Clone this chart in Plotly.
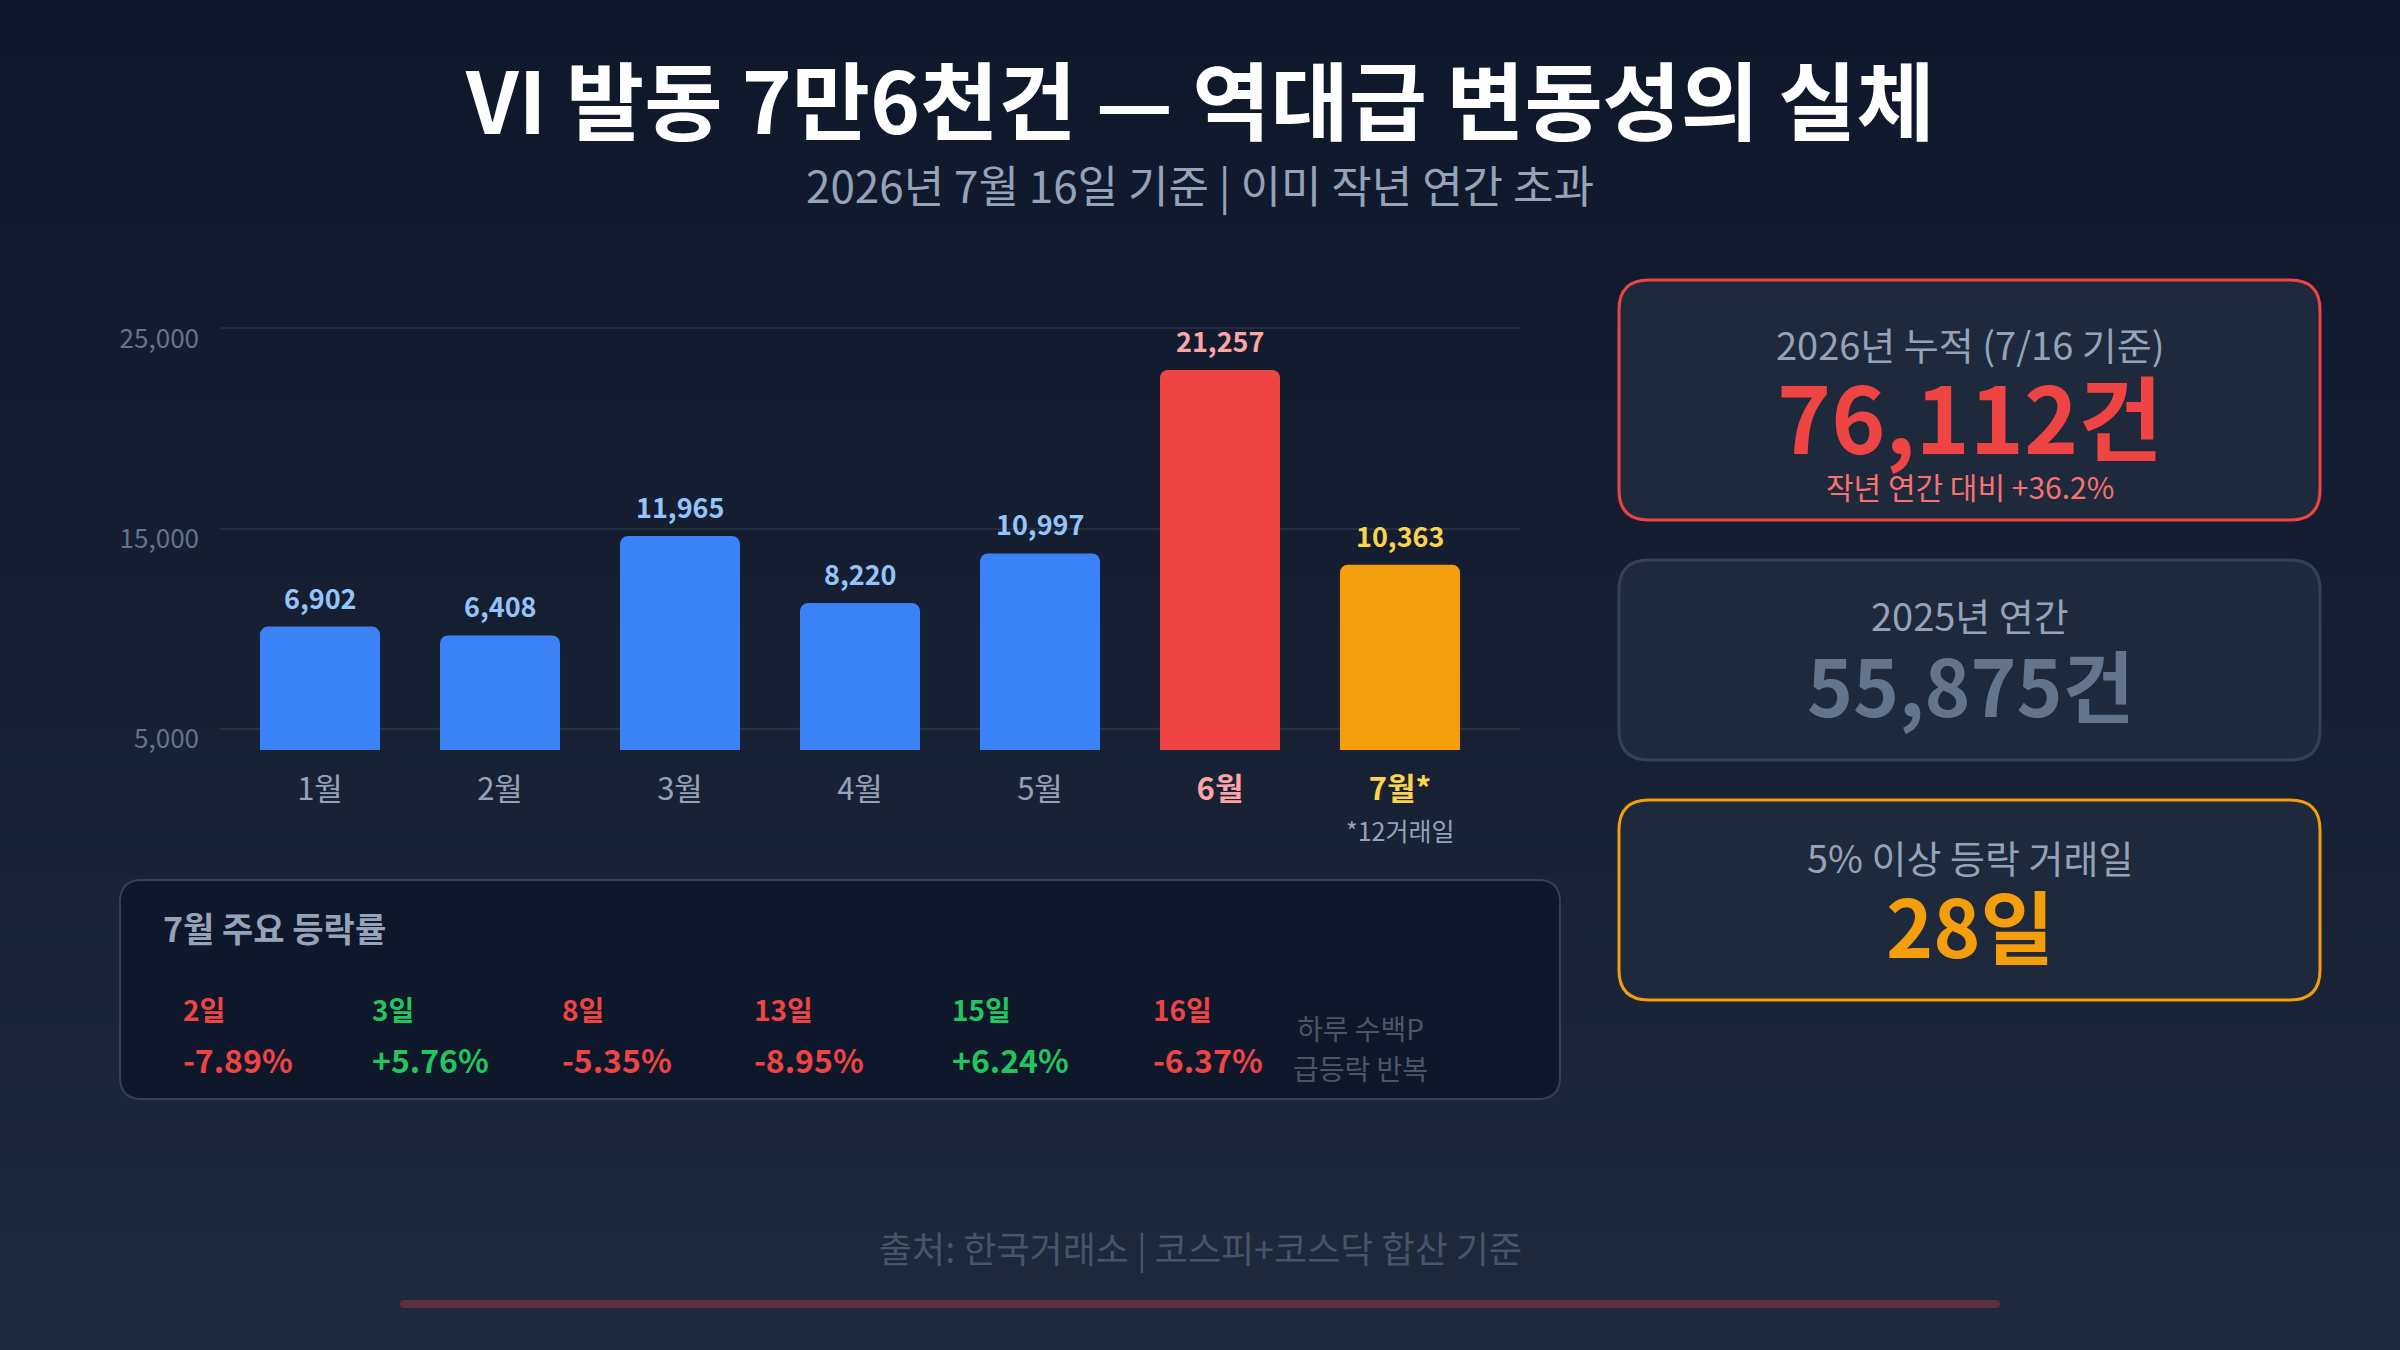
import plotly.graph_objects as go

# ---------------- data ----------------
MONTHS = ['1월', '2월', '3월', '4월', '5월', '6월', '7월']
VI_COUNTS = [6902, 6408, 11965, 8220, 10997, 21257, 10363]
Y_TICKS = [5000, 15000, 25000]
JULY_NOTE = '*12거래일'

DAYS = ['2일', '3일', '8일', '13일', '15일', '16일']
DAY_CHANGES = [-7.89, 5.76, -5.35, -8.95, 6.24, -6.37]

CUM_2026 = 76112
ANNUAL_2025 = 55875
YOY_PCT = 36.2
BIG_MOVE_DAYS = 28

TITLE = 'VI 발동 7만6천건 — 역대급 변동성의 실체'
SUBTITLE = '2026년 7월 16일 기준 | 이미 작년 연간 초과'
SOURCE = '출처: 한국거래소 | 코스피+코스닥 합산 기준'

# ---------------- style ----------------
W, H = 2400, 1350
FONT = 'Noto Sans CJK KR'
BAR_COLORS = ['#3b82f6'] * 5 + ['#ef4444', '#f59e0b']
LABEL_COLORS = ['#93c5fd'] * 5 + ['#fca5a5', '#fcd34d']
UP, DOWN = '#22c55e', '#ef4444'
ITEM_X = [181, 370, 560, 752, 950, 1151]   # layout positions of the daily items (px)


def px_x(x):
    return x / W


def px_y(y):
    return 1 - y / H


def rr_path(x0, y0, x1, y1, r):
    def P(x, y):
        return f"{px_x(x):.5f},{px_y(y):.5f}"
    return (f"M {P(x0 + r, y0)} L {P(x1 - r, y0)} Q {P(x1, y0)} {P(x1, y0 + r)} "
            f"L {P(x1, y1 - r)} Q {P(x1, y1)} {P(x1 - r, y1)} "
            f"L {P(x0 + r, y1)} Q {P(x0, y1)} {P(x0, y1 - r)} "
            f"L {P(x0, y0 + r)} Q {P(x0, y0)} {P(x0 + r, y0)} Z")


fig = go.Figure()

# empty trace so that the gridded reference axis (x/y) is drawn
fig.add_trace(go.Scatter(x=[], y=[], xaxis='x', yaxis='y', hoverinfo='skip',
                         showlegend=False))
# bars
fig.add_trace(go.Bar(
    x=MONTHS, y=VI_COUNTS, xaxis='x', yaxis='y2',
    marker=dict(color=BAR_COLORS, line=dict(width=0)),
    width=0.667, hoverinfo='skip', showlegend=False,
))

shapes = []
# vertical gradient background
top_c, bot_c = (15, 23, 42), (30, 41, 59)
N = 54
for i in range(N):
    t = (i + 0.5) / N
    c = tuple(round(top_c[k] + (bot_c[k] - top_c[k]) * t) for k in range(3))
    shapes.append(dict(type='rect', xref='paper', yref='paper', layer='below',
                       x0=0, x1=1, y0=px_y((i + 1) * H / N + 1), y1=px_y(i * H / N),
                       fillcolor=f'rgb{c}', line=dict(width=0)))

# cards
cards = [
    (1619, 280, 2320, 520, '#ef4444'),
    (1619, 560, 2320, 760, '#334155'),
    (1619, 800, 2320, 1000, '#f59e0b'),
]
for x0, y0, x1, y1, col in cards:
    shapes.append(dict(type='path', xref='paper', yref='paper', layer='below',
                       path=rr_path(x0, y0, x1, y1, 30), fillcolor='#1e293b',
                       line=dict(color=col, width=3)))
# bottom-left panel
shapes.append(dict(type='path', xref='paper', yref='paper', layer='below',
                   path=rr_path(120, 880, 1560, 1099, 22), fillcolor='#0f172a',
                   line=dict(color='#334155', width=2)))
# bottom accent line
shapes.append(dict(type='path', xref='paper', yref='paper', layer='below',
                   path=rr_path(400, 1300, 2000, 1308, 4),
                   fillcolor='rgba(239,68,68,0.3)', line=dict(width=0)))

ann = []


def text(x, y, s, size, color, bold=False, xanchor='center', yanchor='middle'):
    ann.append(dict(xref='paper', yref='paper', x=px_x(x), y=px_y(y), text=s,
                    showarrow=False, xanchor=xanchor, yanchor=yanchor,
                    font=dict(family=FONT, size=size, color=color,
                              weight=700 if bold else 400)))


text(1200, 96, TITLE, 85, '#ffffff', bold=True)
text(1200, 184, SUBTITLE, 44, '#94a3b8')

# value labels above bars
for m, v, c in zip(MONTHS, VI_COUNTS, LABEL_COLORS):
    ann.append(dict(xref='x', yref='y2', x=m, y=v, text=f'{v:,}', showarrow=False,
                    yanchor='bottom', yshift=8,
                    font=dict(family=FONT, size=27, color=c, weight=700)))
ann.append(dict(xref='x', yref='paper', x=MONTHS[-1], y=px_y(830), text=JULY_NOTE,
                showarrow=False, yanchor='middle',
                font=dict(family=FONT, size=25, color='#94a3b8')))

# cards text
text(1970, 343, '2026년 누적 (7/16 기준)', 38, '#94a3b8')
text(1970, 414, f'{CUM_2026:,}건', 92, '#ef4444', bold=True)
text(1970, 486, f'작년 연간 대비 +{YOY_PCT}%', 30, '#f87171')
text(1970, 615, '2025년 연간', 38, '#94a3b8')
text(1970, 683, f'{ANNUAL_2025:,}건', 78, '#64748b', bold=True)
text(1970, 856, '5% 이상 등락 거래일', 38, '#94a3b8')
text(1970, 923, f'{BIG_MOVE_DAYS}일', 80, '#f59e0b', bold=True)

# bottom-left panel text
text(161, 928, '7월 주요 등락률', 34, '#94a3b8', bold=True, xanchor='left')
for x, d, ch in zip(ITEM_X, DAYS, DAY_CHANGES):
    col = UP if ch > 0 else DOWN
    text(x, 1009, d, 28, col, bold=True, xanchor='left')
    text(x, 1059, f'{ch:+.2f}%', 32, col, bold=True, xanchor='left')
text(1360, 1028, '하루 수백P', 28, '#4b5563')
text(1360, 1068, '급등락 반복', 28, '#4b5563')

# source
text(1200, 1247, SOURCE, 36, '#475569')

# x tick labels
ticktext = []
for i, m in enumerate(MONTHS):
    if i == 5:
        ticktext.append(f"<b><span style='color:#fca5a5'>{m}</span></b>")
    elif i == 6:
        ticktext.append(f"<b><span style='color:#fcd34d'>{m}*</span></b>")
    else:
        ticktext.append(m)

SCALE = 380 / 21257  # px per unit for bars
y2_top = (750 - 300) / SCALE
upp = 10000 / 200.5
y_lo = 5000 - 21 * upp
y_hi = 25000 + 28.5 * upp

fig.update_layout(
    width=W, height=H, margin=dict(l=0, r=0, t=0, b=0, autoexpand=False),
    paper_bgcolor='#0f172a', plot_bgcolor='rgba(0,0,0,0)',
    font=dict(family=FONT, color='#94a3b8'),
    showlegend=False,
    barcornerradius=8,
    xaxis=dict(domain=[px_x(220), px_x(1520)], range=[-100 / 180, 6 + 120 / 180],
               type='category', categoryorder='array', categoryarray=MONTHS,
               tickmode='array', tickvals=MONTHS, ticktext=ticktext,
               tickfont=dict(family=FONT, size=31, color='#94a3b8'),
               showgrid=False, zeroline=False, showline=False, ticks='',
               ticklabelstandoff=18, anchor='y', automargin=False),
    yaxis=dict(domain=[px_y(750), px_y(300)], range=[y_lo, y_hi],
               tickmode='array', tickvals=Y_TICKS,
               ticktext=[f'{v:,}' for v in Y_TICKS],
               tickfont=dict(family=FONT, size=26, color='#64748b'),
               ticklabelshift=10,
               showgrid=True, gridcolor='rgba(148,163,184,0.12)', gridwidth=2,
               zeroline=False, showline=False, ticks='', ticklabelstandoff=20,
               anchor='x', automargin=False),
    yaxis2=dict(domain=[px_y(750), px_y(300)], range=[0, y2_top], overlaying='y',
                visible=False, showgrid=False, zeroline=False, anchor='x',
                automargin=False),
    shapes=shapes, annotations=ann,
)

fig.write_html('out.html')
